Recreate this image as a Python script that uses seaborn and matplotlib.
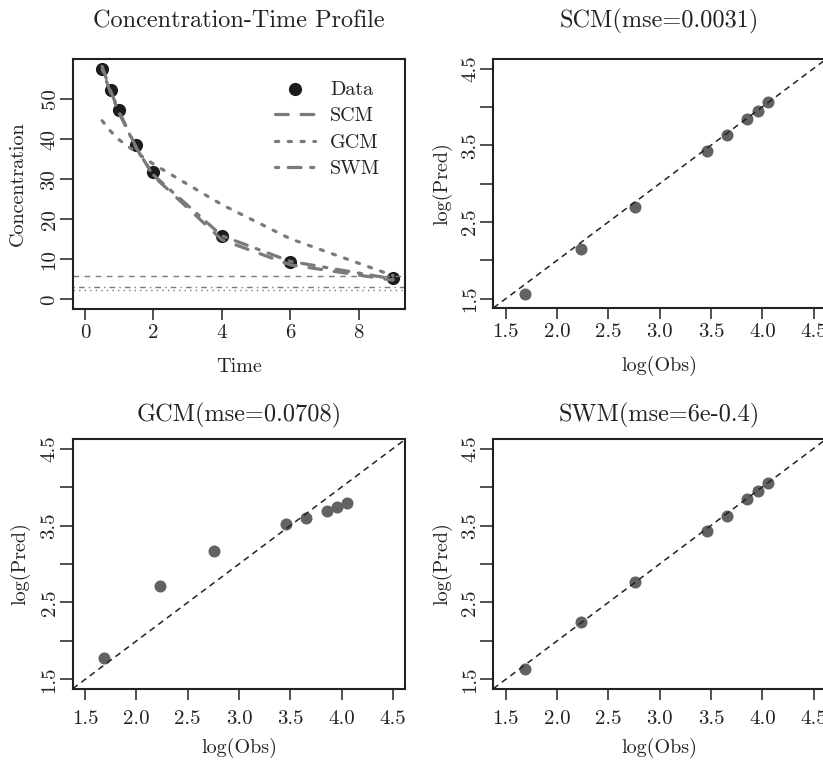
import numpy as np
import matplotlib
matplotlib.use("Agg")
import matplotlib.pyplot as plt
import seaborn as sns

sns.set_style("ticks")
plt.rcParams['font.family'] = ['cmr10', 'DejaVu Serif']
plt.rcParams['mathtext.fontset'] = 'cm'
plt.rcParams['axes.formatter.use_mathtext'] = True
plt.rcParams['axes.unicode_minus'] = False

# data
time = [0.5, 0.75, 1.0, 1.5, 2.0, 4.0, 6.0, 9.0]
conc = [57.6, 52.2, 47.2, 38.6, 31.8, 15.8, 9.3, 5.4]
log_pred_scm = [4.063, 3.950, 3.846, 3.634, 3.426, 2.699, 2.154, 1.565]
log_pred_gcm = [3.797, 3.736, 3.684, 3.602, 3.519, 3.163, 2.716, 1.782]
log_pred_swm = [4.050, 3.942, 3.838, 3.630, 3.435, 2.764, 2.249, 1.630]
ref_levels = [5.8, 3.2, 2.4]
titles = ["SCM(mse=0.0031)", "GCM(mse=0.0708)", "SWM(mse=6e-0.4)"]

W, H = 823, 760
INK = '#222222'
LINE = '#7a7a7a'
PT = '#626262'
TICK_FS = 15
LAB_FS = 14.5
TITLE_FS = 17.5


def frame(left, top, right, bottom):
    return [left / W, (H - bottom) / H, (right - left) / W, (bottom - top) / H]


def r_lim(lo, hi):
    pad = 0.04 * (hi - lo)
    return lo - pad, hi + pad


def style_axes(ax, xpad=3.5):
    for s in ax.spines.values():
        s.set_visible(True)
        s.set_linewidth(1.5)
        s.set_color(INK)
    ax.tick_params(axis='x', length=7.7, width=1.1, color=INK, labelsize=TICK_FS,
                   labelcolor=INK, pad=xpad)
    ax.tick_params(axis='y', length=9.2, width=1.1, color=INK, labelsize=TICK_FS,
                   labelcolor=INK, pad=1.0)
    for lab in ax.get_yticklabels():
        lab.set_rotation(90)
        lab.set_va('center')


fig = plt.figure(figsize=(W / 100, H / 100), dpi=100)

# ---- concentration-time profile
ax1 = fig.add_axes(frame(72.7, 59.3, 405.3, 308.6))
sns.scatterplot(x=time, y=conc, ax=ax1, color='#1c1c1c', s=90, linewidth=0,
                label='Data', zorder=1)
styles = [('SCM', log_pred_scm, (4, 4)),
          ('GCM', log_pred_gcm, (1, 3)),
          ('SWM', log_pred_swm, (1, 3, 4, 3))]
for name, lp, dash in styles:
    ln = sns.lineplot(x=time, y=np.exp(lp), ax=ax1, color=LINE, linewidth=2.3,
                      sort=False, estimator=None, label=name).lines[-1]
    ln.set_dashes(dash)
    ln.set_dash_capstyle('round')
for lvl, dash in zip(ref_levels, [(4, 4), (1, 3, 4, 3), (1, 3)]):
    h = ax1.axhline(lvl, color=LINE, linewidth=1.0)
    h.set_dashes(dash)
ax1.set_xlim(r_lim(0, 9))
ax1.set_ylim(r_lim(0, max(conc)))
ax1.set_xticks([0, 2, 4, 6, 8])
ax1.set_xticklabels(['0', '2', '4', '6', '8'])
ax1.set_yticks([0, 10, 20, 30, 40, 50])
ax1.set_yticklabels(['0', '10', '20', '30', '40', '50'])
ax1.set_xlabel('Time', fontsize=LAB_FS, color=INK)
ax1.set_ylabel('Concentration', fontsize=LAB_FS, color=INK)
ax1.xaxis.set_label_coords(0.5, -0.2326)
ax1.yaxis.set_label_coords(-0.1645, 0.5)
ax1.xaxis.label.set_va('center')
ax1.yaxis.label.set_va('center')
ax1.set_title('Concentration-Time Profile', fontsize=TITLE_FS, color=INK,
              y=1.151, va='center', pad=0)
style_axes(ax1)
leg = ax1.legend(loc='upper left', bbox_to_anchor=(0.608, 0.915), frameon=False,
                 fontsize=LAB_FS, handlelength=2.0, handletextpad=0.75,
                 labelspacing=0.42, borderpad=0, borderaxespad=0)
for t in leg.get_texts():
    t.set_color(INK)

# ---- observed vs predicted panels
frames = [frame(493.3, 59.3, 825.9, 308.0),
          frame(72.7, 439.3, 405.3, 688.7),
          frame(493.3, 439.3, 825.9, 688.7)]
preds = [log_pred_scm, log_pred_gcm, log_pred_swm]
log_obs = np.log(conc)
ticks = [1.5, 2.0, 2.5, 3.0, 3.5, 4.0, 4.5]
for i, (fr, lp, ttl) in enumerate(zip(frames, preds, titles)):
    ax = fig.add_axes(fr)
    sns.scatterplot(x=log_obs, y=lp, ax=ax, color=PT, s=75, linewidth=0)
    lim = r_lim(1.5, 4.5)
    ax.set_xlim(lim)
    ax.set_ylim(lim)
    ax.axline((0, 0), slope=1, color=INK, linewidth=1.1, dashes=(4, 3))
    ax.set_xticks(ticks)
    ax.set_xticklabels([f'{v:.1f}' for v in ticks])
    ax.set_yticks(ticks)
    ax.set_yticklabels(['1.5', '', '2.5', '', '3.5', '', '4.5'])
    ax.set_xlabel('log(Obs)', fontsize=LAB_FS, color=INK)
    ax.set_ylabel('log(Pred)', fontsize=LAB_FS, color=INK)
    left = fr[0] * W
    top_row = i == 0
    xlab_y = 365.7 if top_row else 748
    bottom = (H - fr[1] * H)
    hpx = fr[3] * H
    ax.xaxis.set_label_coords(0.5, (bottom - xlab_y) / hpx)
    ylab_x = 442.7 if left > 400 else 20
    ax.yaxis.set_label_coords((ylab_x - left) / (fr[2] * W), 0.5)
    ax.xaxis.label.set_va('center')
    ax.yaxis.label.set_va('center')
    title_y = 21.7 if top_row else 415
    ax.set_title(ttl, fontsize=TITLE_FS, color=INK, y=(bottom - title_y) / hpx,
                 va='center', pad=0)
    style_axes(ax, xpad=3.5 if top_row else 8.0)

fig.savefig('out.png', dpi=100)
